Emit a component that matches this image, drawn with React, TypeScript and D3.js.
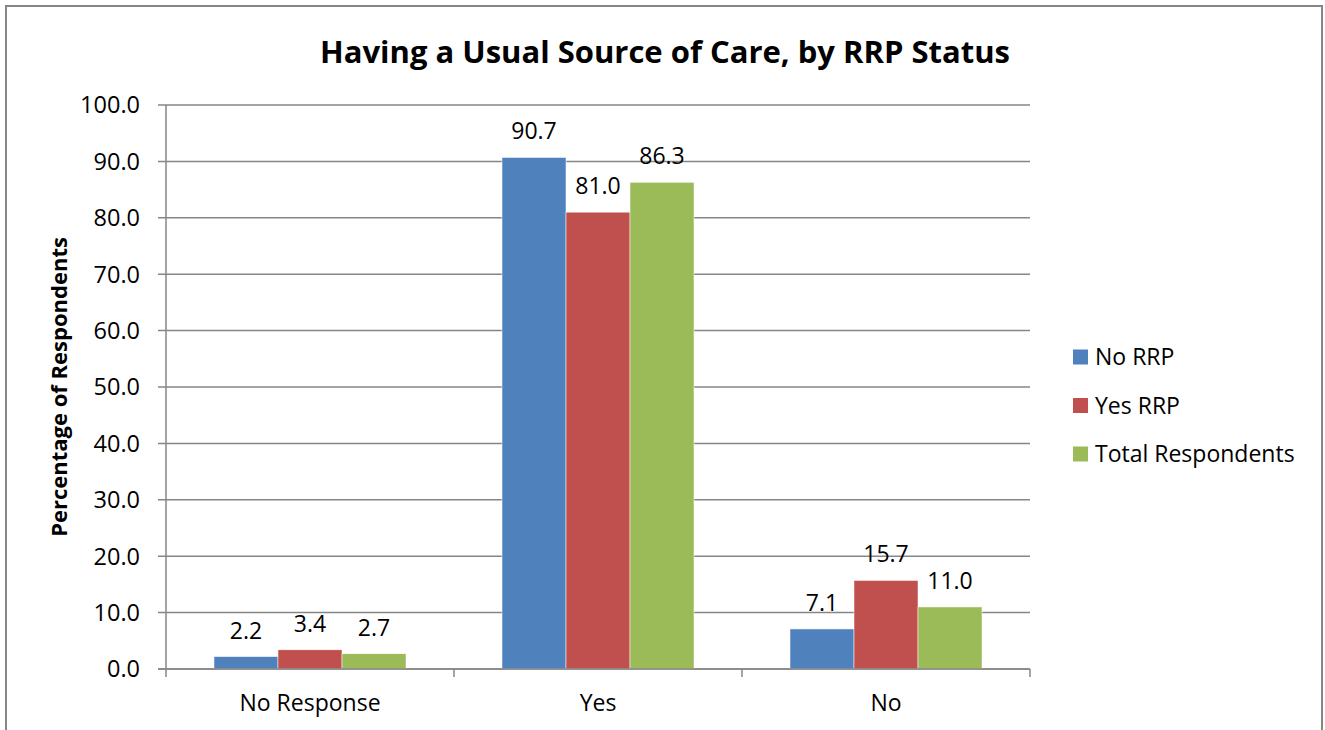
import React from "react";
import * as d3 from "d3";

const categories = ["No Response", "Yes", "No"];
const seriesNames = ["No RRP", "Yes RRP", "Total Respondents"];
const noRRP = [2.2, 90.7, 7.1];
const yesRRP = [3.4, 81.0, 15.7];
const totalRespondents = [2.7, 86.3, 11.0];
const yTicks = [0, 10, 20, 30, 40, 50, 60, 70, 80, 90, 100];
const colors = ["#4F81BD", "#C0504D", "#9BBB59"];

const FONT = "'Open Sans', 'Noto Sans', sans-serif";

export default function App() {
  const width = 1325;
  const height = 730;
  const margin = { top: 105, left: 166, right: 295, bottom: 61 };
  const innerW = width - margin.left - margin.right;
  const innerH = height - margin.top - margin.bottom;

  const series = [noRRP, yesRRP, totalRespondents];

  const x = d3.scaleBand().domain(categories).range([0, innerW]).paddingInner(0).paddingOuter(0);
  const x1 = d3
    .scaleBand()
    .domain(seriesNames)
    .range([0, x.bandwidth()])
    .paddingOuter(0.75)
    .paddingInner(0);
  const y = d3.scaleLinear().domain([0, 100]).range([innerH, 0]);

  const gridColor = "#868686";

  return (
    <div style={{ position: "absolute", left: 0, top: 0 }}>
      <svg width={width} height={height} style={{ display: "block" }}>
        <rect x={0} y={0} width={width} height={height} fill="#fff" />
        <rect x={6} y={6} width={1316} height={height + 10} fill="none" stroke={gridColor} strokeWidth={2} />
        <text
          x={665}
          y={63}
          textAnchor="middle"
          fontFamily={FONT}
          fontWeight="bold"
          fontSize={31}
          fill="#000"
        >
          Having a Usual Source of Care, by RRP Status
        </text>
        <text
          transform={`translate(67,${387}) rotate(-90)`}
          textAnchor="middle"
          fontFamily={FONT}
          fontWeight="bold"
          fontSize={22}
          fill="#000"
        >
          Percentage of Respondents
        </text>
        <g transform={`translate(${margin.left},${margin.top})`}>
          {yTicks.map((t) => (
            <g key={t}>
              <line x1={-8} x2={innerW} y1={y(t)} y2={y(t)} stroke={gridColor} strokeWidth={1.5} />
              <text
                x={-26}
                y={y(t)}
                dy="0.36em"
                textAnchor="end"
                fontFamily={FONT}
                fontSize={23.5}
                fill="#000"
              >
                {t.toFixed(1)}
              </text>
            </g>
          ))}
          {categories.map((c, ci) =>
            series.map((vals, si) => {
              const bx = (x(c) as number) + (x1(seriesNames[si]) as number);
              const v = vals[ci];
              return (
                <g key={c + si}>
                  <rect
                    x={bx}
                    y={y(v)}
                    width={x1.bandwidth()}
                    height={innerH - y(v)}
                    fill={colors[si]}
                    stroke="#fff"
                    strokeWidth={0.5}
                  />
                  <text
                    x={bx + x1.bandwidth() / 2}
                    y={y(v) - 18}
                    textAnchor="middle"
                    fontFamily={FONT}
                    fontSize={23}
                    fill="#000"
                  >
                    {v.toFixed(1)}
                  </text>
                </g>
              );
            })
          )}
          <line x1={0} x2={0} y1={0} y2={innerH + 8} stroke={gridColor} strokeWidth={1.5} />
          <line x1={-8} x2={innerW} y1={innerH} y2={innerH} stroke={gridColor} strokeWidth={1.5} />
          {categories.map((c) => (
            <line
              key={"t" + c}
              x1={(x(c) as number) + x.bandwidth()}
              x2={(x(c) as number) + x.bandwidth()}
              y1={innerH}
              y2={innerH + 8}
              stroke={gridColor}
              strokeWidth={1.5}
            />
          ))}
          {categories.map((c) => (
            <text
              key={"l" + c}
              x={(x(c) as number) + x.bandwidth() / 2}
              y={innerH + 42}
              textAnchor="middle"
              fontFamily={FONT}
              fontSize={23}
              fill="#000"
            >
              {c}
            </text>
          ))}
        </g>
        <g transform="translate(1073,0)">
          {seriesNames.map((s, i) => (
            <g key={s} transform={`translate(0,${357 + i * 48.5})`}>
              <rect x={0} y={-7.5} width={15} height={15} fill={colors[i]} />
              <text x={22} y={0} dy="0.36em" fontFamily={FONT} fontSize={23} fill="#000">
                {s}
              </text>
            </g>
          ))}
        </g>
      </svg>
    </div>
  );
}
